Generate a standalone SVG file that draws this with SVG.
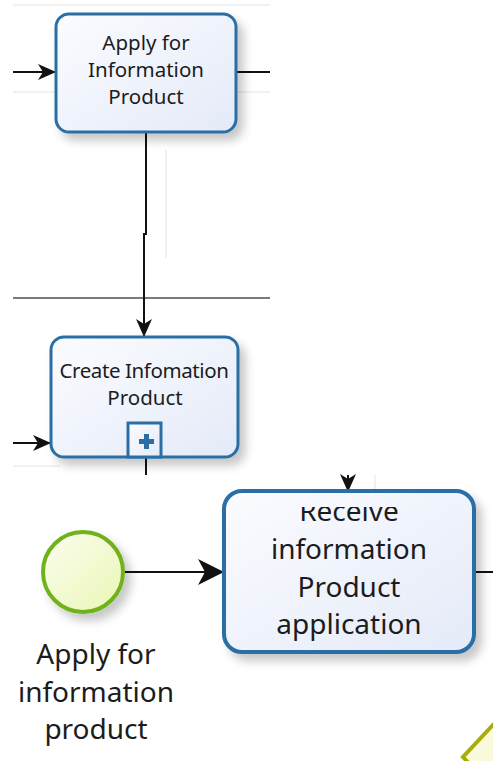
<svg xmlns="http://www.w3.org/2000/svg" width="493" height="761" viewBox="0 0 493 761">
  <defs>
    <linearGradient id="taskFill" x1="0" y1="0" x2="1" y2="1">
      <stop offset="0" stop-color="#fbfcff"/>
      <stop offset="1" stop-color="#e4eaf8"/>
    </linearGradient>
    <linearGradient id="startFill" x1="0" y1="0" x2="1" y2="1">
      <stop offset="0" stop-color="#fbfdf0"/>
      <stop offset="1" stop-color="#eaf7b4"/>
    </linearGradient>
    <linearGradient id="gatewayFill" x1="0" y1="0" x2="1" y2="1">
      <stop offset="0" stop-color="#fdfde8"/>
      <stop offset="1" stop-color="#f4f6c8"/>
    </linearGradient>
    <filter id="shadow" x="-20%" y="-20%" width="150%" height="150%">
      <feDropShadow dx="6" dy="7" stdDeviation="5" flood-color="#000" flood-opacity="0.22"/>
    </filter>
    <marker id="arrowS" viewBox="0 0 18 16" refX="17" refY="8" markerWidth="18" markerHeight="16" markerUnits="userSpaceOnUse" orient="auto">
      <path d="M0,0 L18,8 L0,16 L5,8 Z" fill="#111"/>
    </marker>
    <marker id="arrowL" viewBox="0 0 26 26" refX="25" refY="13" markerWidth="26" markerHeight="26" markerUnits="userSpaceOnUse" orient="auto">
      <path d="M0,0 L26,13 L0,26 L7,13 Z" fill="#111"/>
    </marker>
    <clipPath id="receiveClip">
      <rect x="224" y="507" width="250" height="146"/>
    </clipPath>
    <style>
      .task { fill: url(#taskFill); stroke: #2b6ea6; }
      .lbl { font-family: "Noto Sans", "Open Sans", "DejaVu Sans", sans-serif; fill: #1c1c1c; text-anchor: middle; }
      .sm { font-size: 20.5px; }
      .lg { font-size: 28px; }
      .flow { fill: none; stroke: #111; stroke-width: 2; }
      .guide { fill: none; stroke: #ececec; stroke-width: 1.5; }
      .lane { fill: none; stroke: #7a7a7a; stroke-width: 2; }
    </style>
  </defs>

  <rect x="0" y="0" width="493" height="761" fill="#ffffff"/>

  <!-- faint lane borders -->
  <g id="guides">
    <line class="guide" x1="13" y1="5" x2="270" y2="5"/>
    <line class="guide" x1="13" y1="92" x2="270" y2="92"/>
    <line class="guide" x1="166" y1="150" x2="166" y2="258"/>
    <line class="guide" x1="13" y1="466" x2="60" y2="466"/>
    <line class="guide" x1="375" y1="475" x2="375" y2="500"/>
    <line class="lane" x1="13" y1="298" x2="270" y2="298"/>
  </g>

  <!-- sequence flows -->
  <g id="connectors">
    <line class="flow" x1="13" y1="72" x2="55" y2="72" marker-end="url(#arrowS)"/>
    <line class="flow" x1="237" y1="72" x2="270" y2="72"/>
    <polyline class="flow" points="146,133 146,234 144,234 144,336" marker-end="url(#arrowS)"/>
    <line class="flow" x1="13" y1="443" x2="50" y2="443" marker-end="url(#arrowS)"/>
    <line class="flow" x1="146" y1="458" x2="146" y2="475"/>
    <line class="flow" x1="348" y1="475" x2="348" y2="491" marker-end="url(#arrowS)"/>
    <line class="flow" x1="124" y1="572" x2="223" y2="572" stroke-width="3" marker-end="url(#arrowL)"/>
    <line class="flow" x1="475" y1="572" x2="493" y2="572" stroke-width="3"/>
  </g>

  <g id="task-apply">
    <rect class="task" x="56" y="14" width="180" height="118" rx="13" stroke-width="3" filter="url(#shadow)"/>
    <text class="lbl sm" x="146" y="50">Apply for</text>
    <text class="lbl sm" x="146" y="77">Information</text>
    <text class="lbl sm" x="146" y="104">Product</text>
  </g>

  <g id="task-create">
    <rect class="task" x="51" y="337" width="187" height="120" rx="13" stroke-width="3" filter="url(#shadow)"/>
    <text class="lbl sm" x="144" y="378" letter-spacing="-0.4">Create Infomation</text>
    <text class="lbl sm" x="145" y="405">Product</text>
    <rect x="128" y="423" width="33" height="34" fill="url(#taskFill)" stroke="#2b6ea6" stroke-width="3"/>
    <path d="M144,434 h5 v5 h5 v5 h-5 v5 h-5 v-5 h-5 v-5 h5 Z" fill="#2b6ea6"/>
  </g>

  <g id="task-receive">
    <rect class="task" x="224" y="491" width="250" height="161" rx="18" stroke-width="4" filter="url(#shadow)"/>
    <g clip-path="url(#receiveClip)">
      <text class="lbl lg" x="349" y="521">Receive</text>
    </g>
    <text class="lbl lg" x="349" y="559">information</text>
    <text class="lbl lg" x="349" y="597">Product</text>
    <text class="lbl lg" x="349" y="634">application</text>
  </g>

  <g id="start-apply">
    <circle cx="83" cy="572" r="40" fill="url(#startFill)" stroke="#70b21c" stroke-width="4" filter="url(#shadow)"/>
    <text class="lbl lg" x="96" y="664">Apply for</text>
    <text class="lbl lg" x="96" y="702">information</text>
    <text class="lbl lg" x="96" y="739">product</text>
  </g>

  <g id="gateway">
    <path d="M520,696 L463,757 L520,818 Z" fill="url(#gatewayFill)" stroke="#a9ad0a" stroke-width="4"/>
  </g>
</svg>
